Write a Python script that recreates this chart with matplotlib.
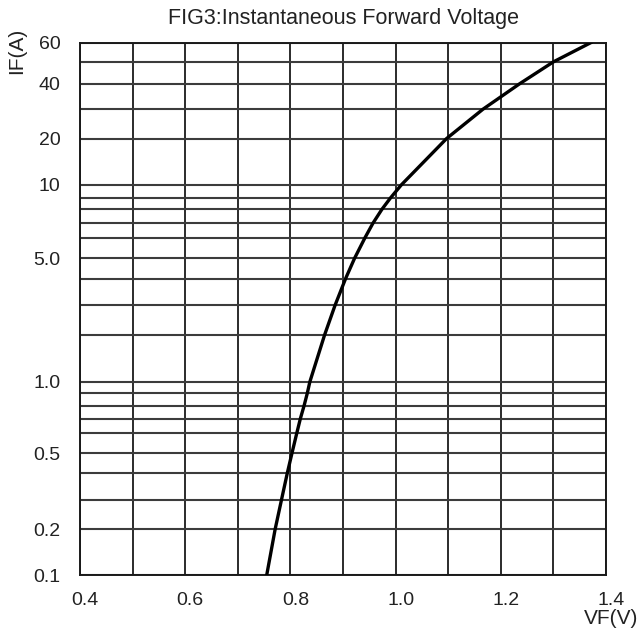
import numpy as np
import matplotlib
matplotlib.use('Agg')
import matplotlib.pyplot as plt
import matplotlib.transforms as mtransforms
from matplotlib.ticker import FixedLocator, FixedFormatter, NullFormatter

# Curve (VF in volts, IF in amps)
vf = [0.755, 0.771, 0.783, 0.794, 0.803, 0.812, 0.819, 0.826, 0.832, 0.837,
      0.865, 0.885, 0.905, 0.922, 0.942, 0.957, 0.974, 0.990, 1.011,
      1.097, 1.166, 1.236, 1.300, 1.371]
if_a = [0.1, 0.2, 0.3, 0.4, 0.5, 0.6, 0.7, 0.8, 0.9, 1.0,
        2, 3, 4, 5, 6, 7, 8, 9, 10,
        20, 30, 40, 50, 60]

x_tick_vals = [0.4, 0.6, 0.8, 1.0, 1.2, 1.4]
x_tick_labels = ['0.4', '0.6', '0.8', '1.0', '1.2', '1.4']
x_grid_vals = [0.4, 0.5, 0.6, 0.7, 0.8, 0.9, 1.0, 1.1, 1.2, 1.3, 1.4]

y_tick_vals = [0.1, 0.2, 0.5, 1, 5, 10, 20, 40, 60]
y_tick_labels = ['0.1', '0.2', '0.5', '1.0', '5.0', '10', '20', '40', '60']
y_grid_vals = [0.1, 0.2, 0.3, 0.4, 0.5, 0.6, 0.7, 0.8, 0.9,
               1, 2, 3, 4, 5, 6, 7, 8, 9,
               10, 20, 30, 40, 50, 60]

# The printed log grid is slightly non-uniform: height fraction of each
# grid value along the printed axis (used to build the axis scale only)
y_scale_frac = [0.000, 0.086, 0.141, 0.191, 0.229, 0.266, 0.294, 0.318, 0.341,
                0.363, 0.451, 0.507, 0.557, 0.595, 0.634, 0.661, 0.687, 0.708,
                0.733, 0.820, 0.875, 0.923, 0.964, 1.000]

title = 'FIG3:Instantaneous Forward Voltage'
x_name = 'VF(V)'
y_name = 'IF(A)'

_logk = np.log10(np.array(y_grid_vals, dtype=float))
_frac = np.array(y_scale_frac)


def _fwd(v):
    v = np.asarray(v, dtype=float)
    lv = np.log10(np.clip(v, 1e-12, None))
    out = np.interp(lv, _logk, _frac)
    s_lo = (_frac[1] - _frac[0]) / (_logk[1] - _logk[0])
    s_hi = (_frac[-1] - _frac[-2]) / (_logk[-1] - _logk[-2])
    out = np.where(lv < _logk[0], _frac[0] + (lv - _logk[0]) * s_lo, out)
    out = np.where(lv > _logk[-1], _frac[-1] + (lv - _logk[-1]) * s_hi, out)
    return out


def _inv(f):
    f = np.asarray(f, dtype=float)
    lv = np.interp(f, _frac, _logk)
    s_lo = (_logk[1] - _logk[0]) / (_frac[1] - _frac[0])
    s_hi = (_logk[-1] - _logk[-2]) / (_frac[-1] - _frac[-2])
    lv = np.where(f < _frac[0], _logk[0] + (f - _frac[0]) * s_lo, lv)
    lv = np.where(f > _frac[-1], _logk[-1] + (f - _frac[-1]) * s_hi, lv)
    return 10.0 ** lv


plt.rcParams['font.family'] = ['Liberation Sans', 'DejaVu Sans']

fig = plt.figure(figsize=(6.41, 6.34), dpi=100)
ax = fig.add_axes([80 / 641, 1 - 575 / 634, 526 / 641, (575 - 42.7) / 634])
ax.set_yscale('function', functions=(_fwd, _inv))
ax.set_xlim(0.4, 1.4)
ax.set_ylim(0.1, 60)

ax.xaxis.set_major_locator(FixedLocator(x_tick_vals))
ax.xaxis.set_major_formatter(FixedFormatter(x_tick_labels))
ax.xaxis.set_minor_locator(FixedLocator(x_grid_vals))
ax.xaxis.set_minor_formatter(NullFormatter())

ax.yaxis.set_major_locator(FixedLocator(y_tick_vals))
ax.yaxis.set_major_formatter(FixedFormatter(y_tick_labels))
ax.yaxis.set_minor_locator(FixedLocator(y_grid_vals))
ax.yaxis.set_minor_formatter(NullFormatter())

ax.grid(which='both', axis='x', color='#1a1a1a', lw=1.3)
ax.grid(which='both', axis='y', color='#3c3c3c', lw=1.5)
ax.set_axisbelow(True)

ax.tick_params(which='both', length=0)
ax.tick_params(axis='y', pad=14, labelsize=14, labelcolor='#222222')
ax.tick_params(axis='x', pad=12, labelsize=14, labelcolor='#222222')

offset = mtransforms.ScaledTranslation(5 / 100, 0, fig.dpi_scale_trans)
for lbl in ax.get_xticklabels():
    lbl.set_transform(lbl.get_transform() + offset)

for s in ax.spines.values():
    s.set_color('#1a1a1a')
    s.set_linewidth(1.4)

ax.plot(vf, if_a, color='black', lw=2.4, solid_joinstyle='round', zorder=3)

fig.text(344 / 641, 1 - 18.5 / 634, title, ha='center', va='center', fontsize=15.5, color='#222222')
fig.text(17 / 641, 1 - 51 / 634, y_name, rotation=90, ha='center', va='center', fontsize=15, color='#222222')
fig.text(611 / 641, 1 - 618.5 / 634, x_name, ha='center', va='center', fontsize=15, color='#222222')

fig.savefig('out.png', dpi=100)
